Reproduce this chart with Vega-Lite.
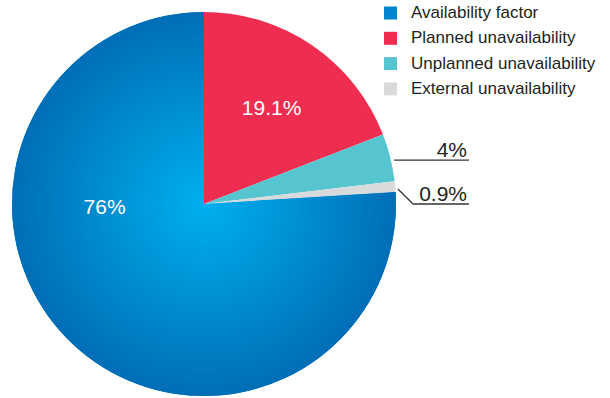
{
  "$schema": "https://vega.github.io/schema/vega-lite/v6.json",
  "width": 384,
  "height": 384,
  "autosize": {"type": "none"},
  "padding": {"left": 12, "top": 12, "right": 214, "bottom": 2},
  "background": "white",
  "config": {"view": {"stroke": null}, "font": "Liberation Sans"},
  "data": {
    "values": [
      {"category": "Availability factor", "value": 0.76, "ord": 4},
      {"category": "Planned unavailability", "value": 0.191, "ord": 1},
      {"category": "Unplanned unavailability", "value": 0.04, "ord": 2},
      {"category": "External unavailability", "value": 0.009, "ord": 3}
    ]
  },
  "layer": [
    {
      "mark": {"type": "arc"},
      "encoding": {
        "theta": {"field": "value", "type": "quantitative", "stack": true},
        "order": {"field": "ord", "type": "quantitative"},
        "color": {
          "field": "category",
          "type": "nominal",
          "scale": {
            "domain": ["Availability factor", "Planned unavailability", "Unplanned unavailability", "External unavailability"],
            "range": ["#0384CE", "#EE2D50", "#56C5D0", "#D9DADC"]
          },
          "legend": {
            "title": null,
            "orient": "none",
            "legendX": 370,
            "legendY": -7.5,
            "symbolType": "square",
            "symbolSize": 169,
            "symbolStrokeWidth": 0,
            "labelFont": "Liberation Sans",
            "labelFontSize": 17,
            "labelColor": "#231F20",
            "labelOffset": 12,
            "rowPadding": 7.3,
            "labelLimit": 300
          }
        }
      }
    },
    {
      "mark": {"type": "arc"},
      "encoding": {
        "theta": {"field": "value", "type": "quantitative", "stack": true},
        "order": {"field": "ord", "type": "quantitative"},
        "fill": {
          "condition": {
            "test": "datum.category === 'Availability factor'",
            "value": {
              "gradient": "radial",
              "x1": 0.5, "y1": 0.5, "r1": 0,
              "x2": 0.5, "y2": 0.5, "r2": 0.5,
              "stops": [
                {"offset": 0, "color": "#00B0EE"},
                {"offset": 1, "color": "#006EB7"}
              ]
            }
          },
          "value": "transparent"
        }
      }
    },
    {
      "transform": [{"filter": "datum.category === 'Planned unavailability'"}],
      "mark": {"type": "text", "color": "white", "fontSize": 21, "align": "center", "baseline": "alphabetic"},
      "encoding": {
        "x": {"datum": 0.352, "type": "quantitative", "scale": {"domain": [-1, 1], "nice": false, "zero": false}, "axis": null},
        "y": {"datum": 0.464, "type": "quantitative", "scale": {"domain": [-1, 1], "nice": false, "zero": false}, "axis": null},
        "text": {"field": "value", "type": "quantitative", "format": ".1~%"}
      }
    },
    {
      "transform": [{"filter": "datum.category === 'Availability factor'"}],
      "mark": {"type": "text", "color": "white", "fontSize": 21, "align": "center", "baseline": "alphabetic"},
      "encoding": {
        "x": {"datum": -0.518, "type": "quantitative", "scale": {"domain": [-1, 1], "nice": false, "zero": false}, "axis": null},
        "y": {"datum": -0.052, "type": "quantitative", "scale": {"domain": [-1, 1], "nice": false, "zero": false}, "axis": null},
        "text": {"field": "value", "type": "quantitative", "format": ".1~%"}
      }
    },
    {
      "transform": [{"filter": "datum.category === 'Unplanned unavailability'"}],
      "mark": {"type": "text", "color": "#231F20", "fontSize": 21, "align": "right", "baseline": "alphabetic"},
      "encoding": {
        "x": {"datum": 1.37, "type": "quantitative", "scale": {"domain": [-1, 1], "nice": false, "zero": false}, "axis": null},
        "y": {"datum": 0.245, "type": "quantitative", "scale": {"domain": [-1, 1], "nice": false, "zero": false}, "axis": null},
        "text": {"field": "value", "type": "quantitative", "format": ".1~%"}
      }
    },
    {
      "transform": [{"filter": "datum.category === 'External unavailability'"}],
      "mark": {"type": "text", "color": "#231F20", "fontSize": 21, "align": "right", "baseline": "alphabetic"},
      "encoding": {
        "x": {"datum": 1.37, "type": "quantitative", "scale": {"domain": [-1, 1], "nice": false, "zero": false}, "axis": null},
        "y": {"datum": 0.016, "type": "quantitative", "scale": {"domain": [-1, 1], "nice": false, "zero": false}, "axis": null},
        "text": {"field": "value", "type": "quantitative", "format": ".1~%"}
      }
    },
    {
      "transform": [{"filter": "datum.category === 'Unplanned unavailability'"}],
      "mark": {"type": "rule", "color": "#333333", "strokeWidth": 1.3},
      "encoding": {
        "x": {"datum": 0.99, "type": "quantitative", "scale": {"domain": [-1, 1], "nice": false, "zero": false}, "axis": null},
        "x2": {"datum": 1.38},
        "y": {"datum": 0.229, "type": "quantitative", "scale": {"domain": [-1, 1], "nice": false, "zero": false}, "axis": null},
        "y2": {"datum": 0.229}
      }
    },
    {
      "transform": [{"filter": "datum.category === 'External unavailability'"}],
      "mark": {"type": "rule", "color": "#333333", "strokeWidth": 1.3},
      "encoding": {
        "x": {"datum": 1.01, "type": "quantitative", "scale": {"domain": [-1, 1], "nice": false, "zero": false}, "axis": null},
        "x2": {"datum": 1.089},
        "y": {"datum": 0.078, "type": "quantitative", "scale": {"domain": [-1, 1], "nice": false, "zero": false}, "axis": null},
        "y2": {"datum": 0}
      }
    },
    {
      "transform": [{"filter": "datum.category === 'External unavailability'"}],
      "mark": {"type": "rule", "color": "#333333", "strokeWidth": 1.3},
      "encoding": {
        "x": {"datum": 1.089, "type": "quantitative", "scale": {"domain": [-1, 1], "nice": false, "zero": false}, "axis": null},
        "x2": {"datum": 1.38},
        "y": {"datum": 0, "type": "quantitative", "scale": {"domain": [-1, 1], "nice": false, "zero": false}, "axis": null},
        "y2": {"datum": 0}
      }
    }
  ]
}
